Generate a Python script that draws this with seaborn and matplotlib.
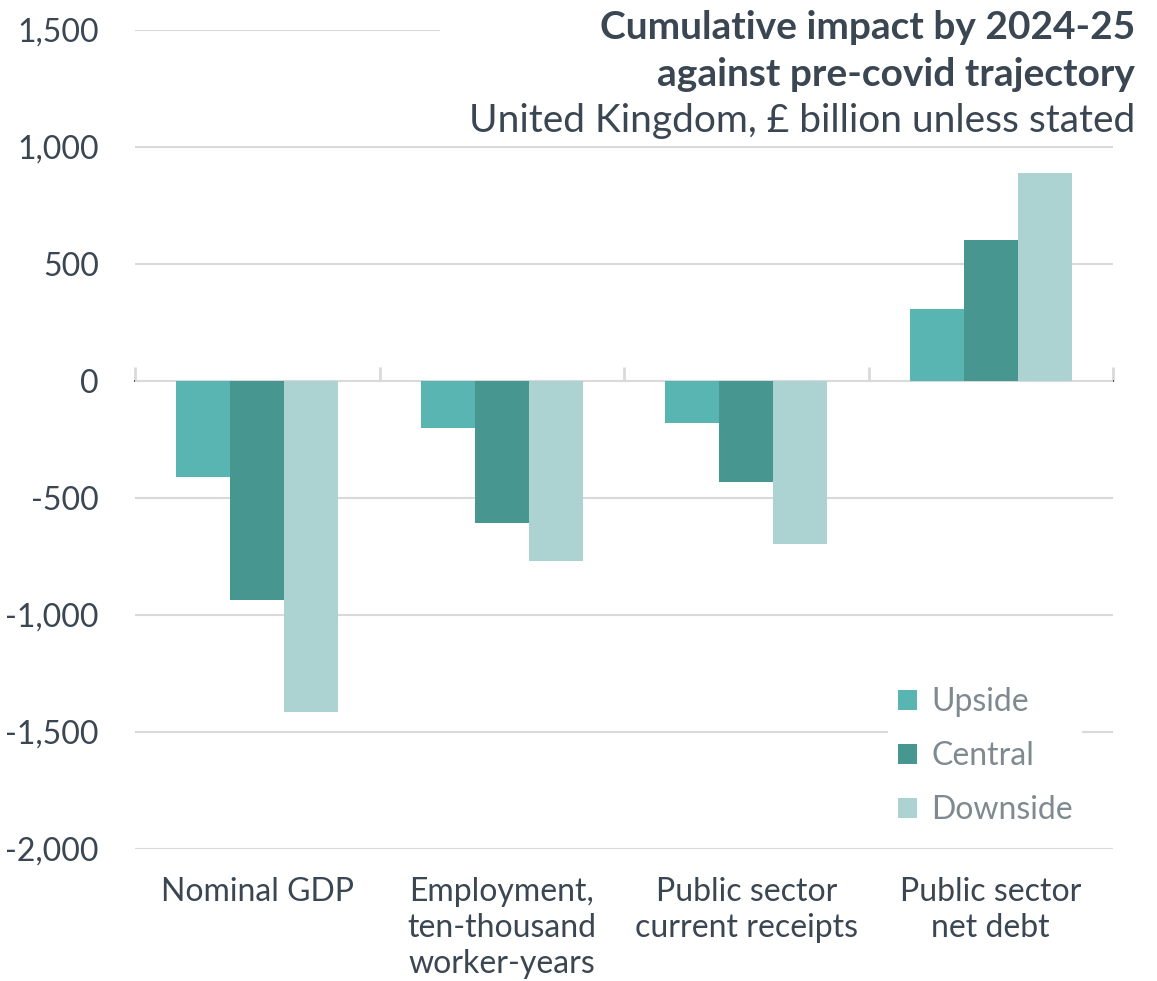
import pandas as pd
import matplotlib.pyplot as plt
import seaborn as sns
from matplotlib.patches import Rectangle

# Chart data
categories = ['Nominal GDP', 'Employment,\nten-thousand\nworker-years',
              'Public sector\ncurrent receipts', 'Public sector\nnet debt']
scenarios = ['Upside', 'Central', 'Downside']
upside = [-410, -200, -180, 308]
central = [-935, -607, -432, 603]
downside = [-1415, -770, -697, 889]
y_ticks = [-2000, -1500, -1000, -500, 0, 500, 1000, 1500]

colors = ['#58b5b1', '#47968f', '#acd3d2']
text_col = '#3a4652'
grid_col = '#d9d9d9'

rows = []
for vals, name in zip([upside, central, downside], scenarios):
    for cat, v in zip(categories, vals):
        rows.append({'category': cat, 'scenario': name, 'value': v})
df = pd.DataFrame(rows)

sns.set_theme(style='white')
plt.rcParams['font.family'] = ['Lato', 'DejaVu Sans']

fig = plt.figure(figsize=(11.57, 9.81), dpi=100)
ax = fig.add_axes([135 / 1157, 1 - 849 / 981, (1113 - 135) / 1157, (849 - 30) / 981])

sns.barplot(data=df, x='category', y='value', hue='scenario', order=categories,
            hue_order=scenarios, palette=colors, saturation=1, width=0.663,
            linewidth=0, ax=ax)

ax.set_ylim(-2000, 1500)
ax.set_xlim(-0.5, len(categories) - 0.5)
ax.set_yticks(y_ticks)
ax.set_yticklabels([f'{t:,}' for t in y_ticks])
ax.yaxis.grid(True, color=grid_col, linewidth=1.5)
ax.set_axisbelow(True)
for s in ax.spines.values():
    s.set_visible(False)
ax.set_xlabel('')
ax.set_ylabel('')
ax.tick_params(axis='y', length=0, labelsize=23, labelcolor=text_col, pad=26)
ax.tick_params(axis='x', length=0, labelsize=23, labelcolor=text_col, pad=20)
for lab in ax.get_xticklabels():
    lab.set_linespacing(1.25)

# zero line with category boundary ticks
zero_pos = (0 - ax.get_ylim()[0]) / (ax.get_ylim()[1] - ax.get_ylim()[0])
sec = ax.secondary_xaxis(zero_pos)
sec.set_xticks([i - 0.5 for i in range(len(categories) + 1)])
sec.set_xticklabels([])
sec.tick_params(direction='out', length=10, width=2, color=grid_col)
sec.spines['bottom'].set_color(grid_col)
sec.spines['bottom'].set_linewidth(2)

leg = ax.legend(loc='lower right', bbox_to_anchor=(0.985, -0.002), frameon=True,
                facecolor='white', edgecolor='none', framealpha=1, fontsize=23,
                handlelength=0.6, handleheight=0.6, handletextpad=0.45,
                labelspacing=0.75, borderpad=0.3)
for t in leg.get_texts():
    t.set_color('#7f8a90')

# title area (covers top gridline)
fig.patches.append(Rectangle((440 / 1157, 1 - 142 / 981), 1, 142 / 981,
                             transform=fig.transFigure, facecolor='white',
                             edgecolor='none', zorder=5))
fig.text(1135 / 1157, 1 - 10 / 981, 'Cumulative impact by 2024-25\nagainst pre-covid trajectory',
         ha='right', va='top', fontsize=28, fontweight='bold', color=text_col,
         linespacing=1.4, zorder=6)
fig.text(1135 / 1157, 1 - 103 / 981, 'United Kingdom, £ billion unless stated',
         ha='right', va='top', fontsize=28, fontweight='normal', color=text_col, zorder=6)

plt.savefig('out.png', dpi=100)
